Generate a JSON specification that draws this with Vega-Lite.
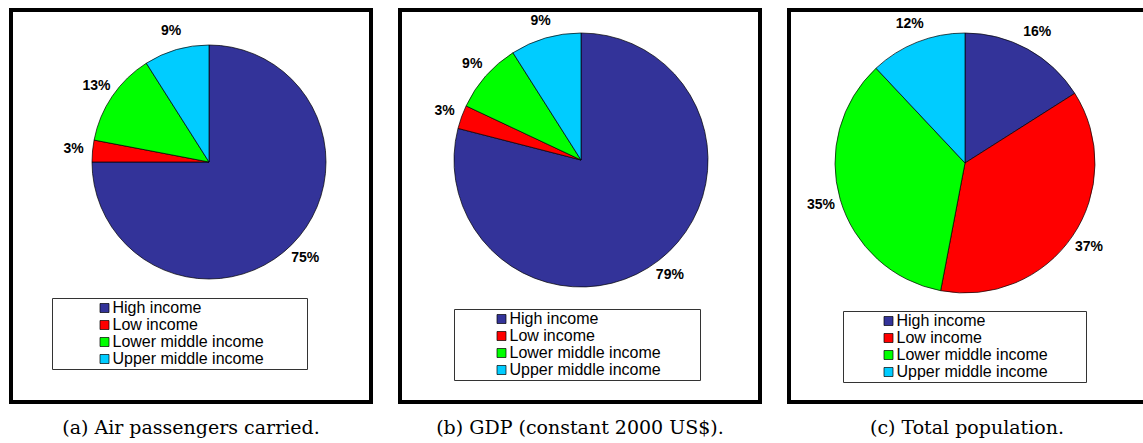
{
  "$schema": "https://vega.github.io/schema/vega-lite/v6.json",
  "padding": {"left": 9, "top": 8, "right": 0, "bottom": 0},
  "spacing": 25,
  "background": "white",
  "config": {
    "view": {"stroke": "black", "strokeWidth": 4},
    "legend": {
      "titleOrient": "right",
      "titleFontSize": 4,
      "symbolType": "square",
      "symbolSize": 81,
      "symbolStrokeColor": "black",
      "symbolStrokeWidth": 0.8,
      "labelFont": "Liberation Sans",
      "labelFontSize": 16,
      "labelColor": "black",
      "labelLimit": 0,
      "labelOffset": 0,
      "strokeColor": "#333333",
      "padding": 2,
      "rowPadding": 1
    },
    "text": {"font": "Liberation Sans", "fontSize": 14, "fontWeight": "bold", "color": "black", "align": "center", "baseline": "middle"},
    "arc": {"stroke": "black", "strokeWidth": 0.7}
  },
  "resolve": {"scale": {"color": "independent"}, "legend": {"color": "independent"}},
  "hconcat": [
    {
      "width": 360,
      "height": 392,
      "view": {"stroke": "black", "strokeWidth": 4},
      "title": {"text": "(a)  Air passengers carried.", "orient": "bottom", "font": "DejaVu Serif", "fontSize": 19, "fontWeight": "normal", "color": "black", "offset": 17},
      "data": {"values": [
        {"group": "High income", "share": 0.75},
        {"group": "Low income", "share": 0.03},
        {"group": "Lower middle income", "share": 0.13},
        {"group": "Upper middle income", "share": 0.09}
      ]},
      "encoding": {
        "theta": {"field": "share", "type": "quantitative", "stack": true},
        "order": {"field": "group", "type": "nominal", "sort": "ascending"}
      },
      "layer": [
        {
          "mark": {"type": "arc", "outerRadius": 117, "x": 198, "y": 152},
          "encoding": {
            "color": {
              "field": "group", "type": "nominal",
              "scale": {"domain": ["High income", "Low income", "Lower middle income", "Upper middle income"], "range": ["#333399", "#ff0000", "#00ff00", "#00ccff"]},
              "legend": {"title": "\u00a0", "orient": "none", "legendX": 41, "legendY": 288, "symbolOffset": 42.5, "titlePadding": 41}
            }
          }
        },
        {
          "mark": {"type": "text", "radius": 136, "x": 198, "y": 152},
          "encoding": {
            "detail": {"field": "group", "type": "nominal"},
            "text": {"field": "share", "type": "quantitative", "format": ".0%"}
          }
        }
      ]
    },
    {
      "width": 360,
      "height": 392,
      "view": {"stroke": "black", "strokeWidth": 4},
      "title": {"text": "(b)  GDP (constant 2000 US$).", "orient": "bottom", "font": "DejaVu Serif", "fontSize": 19, "fontWeight": "normal", "color": "black", "offset": 17},
      "data": {"values": [
        {"group": "High income", "share": 0.79},
        {"group": "Low income", "share": 0.03},
        {"group": "Lower middle income", "share": 0.09},
        {"group": "Upper middle income", "share": 0.09}
      ]},
      "encoding": {
        "theta": {"field": "share", "type": "quantitative", "stack": true},
        "order": {"field": "group", "type": "nominal", "sort": "ascending"}
      },
      "layer": [
        {
          "mark": {"type": "arc", "outerRadius": 127, "x": 181, "y": 150},
          "encoding": {
            "color": {
              "field": "group", "type": "nominal",
              "scale": {"domain": ["High income", "Low income", "Lower middle income", "Upper middle income"], "range": ["#333399", "#ff0000", "#00ff00", "#00ccff"]},
              "legend": {"title": "\u00a0", "orient": "none", "legendX": 54, "legendY": 299, "symbolOffset": 37.5, "titlePadding": 37}
            }
          }
        },
        {
          "mark": {"type": "text", "radius": 145, "x": 181, "y": 150},
          "encoding": {
            "detail": {"field": "group", "type": "nominal"},
            "text": {"field": "share", "type": "quantitative", "format": ".0%"}
          }
        }
      ]
    },
    {
      "width": 356,
      "height": 392,
      "view": {"stroke": "black", "strokeWidth": 4},
      "title": {"text": "(c)  Total population.", "orient": "bottom", "font": "DejaVu Serif", "fontSize": 19, "fontWeight": "normal", "color": "black", "offset": 17},
      "data": {"values": [
        {"group": "High income", "share": 0.16},
        {"group": "Low income", "share": 0.37},
        {"group": "Lower middle income", "share": 0.35},
        {"group": "Upper middle income", "share": 0.12}
      ]},
      "encoding": {
        "theta": {"field": "share", "type": "quantitative", "stack": true},
        "order": {"field": "group", "type": "nominal", "sort": "ascending"}
      },
      "layer": [
        {
          "mark": {"type": "arc", "outerRadius": 130, "x": 176, "y": 153},
          "encoding": {
            "color": {
              "field": "group", "type": "nominal",
              "scale": {"domain": ["High income", "Low income", "Lower middle income", "Upper middle income"], "range": ["#333399", "#ff0000", "#00ff00", "#00ccff"]},
              "legend": {"title": "\u00a0", "orient": "none", "legendX": 54, "legendY": 301, "symbolOffset": 35.5, "titlePadding": 36}
            }
          }
        },
        {
          "mark": {"type": "text", "radius": 150, "x": 176, "y": 153},
          "encoding": {
            "detail": {"field": "group", "type": "nominal"},
            "text": {"field": "share", "type": "quantitative", "format": ".0%"}
          }
        }
      ]
    }
  ]
}
